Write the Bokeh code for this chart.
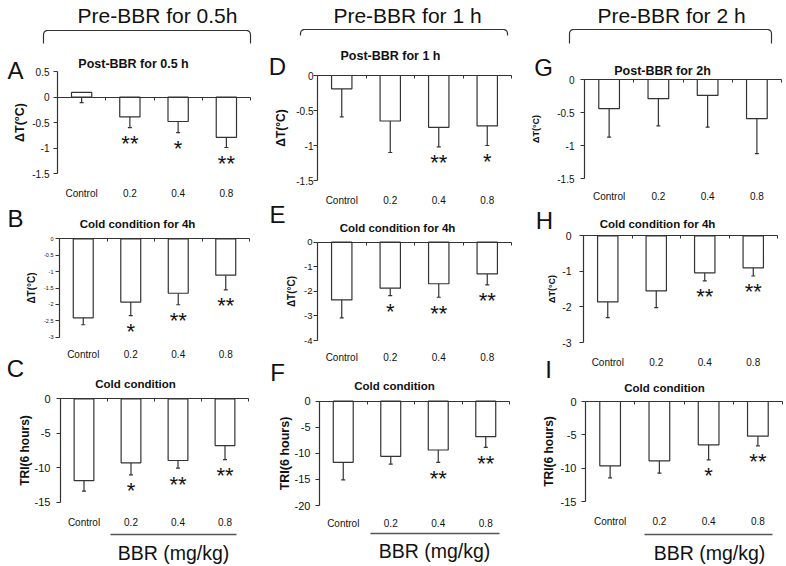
import numpy as np
from bokeh.plotting import figure
from bokeh.models import Range1d, LinearAxis, FixedTicker, ColumnDataSource, Whisker, TeeHead
from bokeh.layouts import row
from bokeh.embed import file_html
from bokeh.resources import INLINE
from bokeh.core.properties import value

# ---------------- data ----------------
categories = ["Control", "0.2", "0.4", "0.8"]

a_vals = [0.09, -0.39, -0.48, -0.79]
a_err = [0.20, 0.21, 0.22, 0.20]
a_sig = ["", "**", "*", "**"]

b_vals = [-2.41, -1.93, -1.66, -1.11]
b_err = [0.21, 0.41, 0.35, 0.45]
b_sig = ["", "*", "**", "**"]

c_vals = [-11.86, -9.29, -8.95, -6.78]
c_err = [1.54, 1.74, 1.12, 2.03]
c_sig = ["", "*", "**", "**"]

d_vals = [-0.19, -0.65, -0.74, -0.72]
d_err = [0.40, 0.45, 0.28, 0.28]
d_sig = ["", "", "**", "*"]

e_vals = [-2.35, -1.87, -1.69, -1.29]
e_err = [0.73, 0.30, 0.55, 0.45]
e_sig = ["", "*", "**", "**"]

f_vals = [-11.73, -10.58, -9.36, -6.80]
f_err = [3.37, 1.47, 2.37, 2.05]
f_sig = ["", "", "**", "**"]

g_vals = [-0.44, -0.29, -0.24, -0.59]
g_err = [0.43, 0.41, 0.48, 0.53]
g_sig = ["", "", "", ""]

h_vals = [-1.86, -1.55, -1.04, -0.90]
h_err = [0.44, 0.47, 0.23, 0.23]
h_sig = ["", "", "**", "**"]

i_vals = [-9.65, -8.90, -6.50, -5.20]
i_err = [1.80, 1.85, 2.25, 1.45]
i_sig = ["", "", "*", "**"]

ticks_a = [0.5, 0, -0.5, -1, -1.5]
ticks_b = [0, -0.5, -1, -1.5, -2, -2.5, -3]
ticks_c = [0, -5, -10, -15]
ticks_d = [0, -0.5, -1, -1.5]
ticks_e = [0, -1, -2, -3, -4]
ticks_f = [0, -5, -10, -15, -20]
ticks_g = [0, -0.5, -1, -1.5]
ticks_h = [0, -1, -2, -3]
ticks_i = [0, -5, -10, -15]

col_titles = ["Pre-BBR for 0.5h", "Pre-BBR for 1 h", "Pre-BBR for 2 h"]
letters = ["A", "B", "C", "D", "E", "F", "G", "H", "I"]
subtitles = ["Post-BBR for 0.5 h", "Cold condition for 4h", "Cold condition",
             "Post-BBR for 1 h", "Cold condition for 4h", "Cold condition",
             "Post-BBR for 2h", "Cold condition for 4h", "Cold condition"]
ylabels = ["ΔT(°C)", "ΔT(°C)", "TRI(6 hours)"] * 3
xlabel = "BBR (mg/kg)"

# ---------------- styles / layout (reference pixel geometry) ----------------
FONT = "Liberation Sans"
INK = "#111111"
LINE = "#333333"
PAGE_OFF = 0
H = 564

columns = [
    dict(ox=0, W=262, title_xy=(157, 15), bracket=(43, 250, 30, 43),
         footer=(110, 236, 534), bbr_xy=(173, 552)),
    dict(ox=262, W=262, title_xy=(407, 15), bracket=(300, 507, 29, 35),
         footer=(370, 499, 533), bbr_xy=(434, 550)),
    dict(ox=524, W=260, title_xy=(671, 15), bracket=(569, 771, 29, 43),
         footer=(644, 772, 534), bbr_xy=(709, 552)),
]

panels = [
    # (vals, err, sig, ticks, geom(ax0, ax1, ytop_px, ybot_px), letter_xy, sub_xy,
    #  sub_fs, tick_fs, tick_label_standoff, ylabel_fs, ylabel_standoff, cat_standoff)
    (a_vals, a_err, a_sig, ticks_a, (57, 250, 71, 173), (15, 70), (133, 63), 12.5, 10, 4, 12.5, 2, 8),
    (b_vals, b_err, b_sig, ticks_b, (59, 249, 238.3, 336.7), (15, 218), (137, 223), 11.5, 5.5, 2, 10, 4, 6),
    (c_vals, c_err, c_sig, ticks_c, (60, 248, 398.3, 501.7), (15, 368), (135, 383), 11.5, 11, 6, 12, 0, 9),
    (d_vals, d_err, d_sig, ticks_d, (317, 511, 75, 180), (277, 66), (390, 55), 12.5, 10, 0, 12, 5, 8),
    (e_vals, e_err, e_sig, ticks_e, (317, 511, 241.7, 340), (277, 214), (397, 227), 11.5, 9.5, 1, 10, 4, 5),
    (f_vals, f_err, f_sig, ticks_f, (319, 509, 400.7, 505), (277, 372), (394, 385), 11.5, 11, 5, 12.5, 0, 6),
    (g_vals, g_err, g_sig, ticks_g, (584, 781, 79, 178.3), (543, 67), (662, 70), 12.5, 10, 6, 9, 13, 6),
    (h_vals, h_err, h_sig, ticks_h, (583, 777, 235.3, 342), (544, 220), (657, 223), 11.5, 10.5, 8, 9, 2, 8),
    (i_vals, i_err, i_sig, ticks_i, (585, 782, 401, 501), (548, 369), (664, 387), 11.5, 11, 5, 12, 2, 8),
]


def make_col(W):
    p = figure(width=W, height=H, x_range=Range1d(0, W), y_range=Range1d(H, 0),
               x_axis_type=None, y_axis_type=None, toolbar_location=None,
               output_backend="svg", min_border=0, outline_line_color=None,
               background_fill_color="white", border_fill_color="white")
    return p


def bracket_path(x0, x1, ytop, ybot, r=4):
    t = np.linspace(0, np.pi / 2, 8)
    xs = [x0] + list(x0 + r - r * np.cos(t)) + list(x1 - r + r * np.sin(t)) + [x1]
    ys = [ybot] + list(ytop + r - r * np.sin(t)) + list(ytop + r - r * np.cos(t)) + [ybot]
    return xs, ys


def add_panel(p, ox, W, idx, spec):
    (vals, errs, sig, ticks, geom, letter_xy, sub_xy, sub_fs, tick_fs, tick_so,
     ylab_fs, ylab_so, cat_so) = spec
    name = "p%d" % idx
    ax0, ax1, ytop_px, ybot_px = geom
    n = len(categories)
    ymax, ymin = max(ticks), min(ticks)
    kx = (ax1 - ax0) / n
    xs0 = -(ax0 - ox) / kx
    ky = (ybot_px - ytop_px) / (ymax - ymin)
    ye = ymax + (ytop_px - PAGE_OFF) / ky
    p.extra_x_ranges = {**p.extra_x_ranges, name: Range1d(xs0, xs0 + W / kx)}
    p.extra_y_ranges = {**p.extra_y_ranges, name: Range1d(ye - H / ky, ye)}

    xc = [i + 0.5 for i in range(n)]
    low = [v - e for v, e in zip(vals, errs)]
    src = ColumnDataSource(dict(x=xc, top=vals, low=low, sig=sig))

    p.vbar(x="x", top="top", bottom=0, width=0.42, source=src, fill_color="white",
           line_color=LINE, line_width=1.2, x_range_name=name, y_range_name=name)
    wh = Whisker(base="x", upper="top", lower="low", source=src, dimension="height",
                 line_color=LINE, line_width=1.2, upper_head=None,
                 lower_head=TeeHead(size=4, line_color=LINE, line_width=1.2),
                 x_range_name=name, y_range_name=name)
    p.add_layout(wh)
    p.text(x="x", y="low", text="sig", source=src, text_align="center",
           text_baseline="alphabetic", y_offset=16, text_font=value(FONT),
           text_font_size="22px", text_color=INK, x_range_name=name, y_range_name=name)

    # y axis
    yax = LinearAxis(x_range_name=name, y_range_name=name, fixed_location=0,
                     bounds=(ymin, ymax), ticker=FixedTicker(ticks=ticks),
                     major_label_overrides={t: f"{t:g}" for t in ticks},
                     axis_label=ylabels[idx], axis_label_standoff=ylab_so,
                     axis_label_text_font=FONT, axis_label_text_font_style="bold",
                     axis_label_text_font_size=f"{ylab_fs}px", axis_label_text_color=INK,
                     major_label_text_font=FONT, major_label_text_font_size=f"{tick_fs}px",
                     major_label_text_color=INK, major_label_standoff=tick_so,
                     major_tick_in=0, major_tick_out=4, major_tick_line_color=LINE,
                     minor_tick_line_color=None, axis_line_color=LINE, axis_line_width=1.2)
    p.add_layout(yax, "left")

    # zero line with category separators (no labels)
    zax = LinearAxis(x_range_name=name, y_range_name=name, fixed_location=0,
                     bounds=(0, n), ticker=FixedTicker(ticks=list(range(n + 1))),
                     major_label_text_color=None, major_tick_in=0, major_tick_out=3,
                     major_tick_line_color=LINE, minor_tick_line_color=None,
                     axis_line_color=LINE, axis_line_width=1.2)
    p.add_layout(zax, "below")

    # category labels below the panel
    cax = LinearAxis(x_range_name=name, y_range_name=name, fixed_location=ymin,
                     bounds=(0, n), ticker=FixedTicker(ticks=xc),
                     major_label_overrides=dict(zip(xc, categories)),
                     axis_line_color=None, major_tick_line_color=None,
                     minor_tick_line_color=None, major_label_standoff=cat_so,
                     major_label_text_font=FONT, major_label_text_font_size="10px",
                     major_label_text_color=INK)
    p.add_layout(cax, "below")

    # panel letter and subtitle (reference pixel positions)
    lx, ly = letter_xy
    sx, sy = sub_xy
    p.text(x=[lx - ox], y=[ly - PAGE_OFF], text=[letters[idx]], text_align="center",
           text_baseline="middle", text_font=value(FONT), text_font_size="24px", text_color=INK)
    p.text(x=[sx - ox], y=[sy - PAGE_OFF], text=[subtitles[idx]], text_align="center",
           text_baseline="middle", text_font=value(FONT), text_font_style="bold",
           text_font_size=f"{sub_fs}px", text_color=INK)


figs = []
for ci, col in enumerate(columns):
    ox, W = col["ox"], col["W"]
    p = make_col(W)
    tx, ty = col["title_xy"]
    p.text(x=[tx - ox], y=[ty - PAGE_OFF], text=[col_titles[ci]], text_align="center",
           text_baseline="middle", text_font=value(FONT), text_font_size="21px", text_color=INK)
    bx0, bx1, bt, bb = col["bracket"]
    bxs, bys = bracket_path(bx0 - ox, bx1 - ox, bt - PAGE_OFF, bb - PAGE_OFF)
    p.line(bxs, bys, line_color=LINE, line_width=1.2)
    for k in range(3):
        idx = ci * 3 + k
        add_panel(p, ox, W, idx, panels[idx])
    fx0, fx1, fy = col["footer"]
    p.line([fx0 - ox, fx1 - ox], [fy - PAGE_OFF, fy - PAGE_OFF], line_color="#555555", line_width=1.5)
    bxx, byy = col["bbr_xy"]
    p.text(x=[bxx - ox], y=[byy - PAGE_OFF], text=[xlabel], text_align="center",
           text_baseline="middle", text_font=value(FONT), text_font_size="19.5px", text_color=INK)
    figs.append(p)

layout = row(*figs)
open("out.html", "w").write(file_html(layout, INLINE))
